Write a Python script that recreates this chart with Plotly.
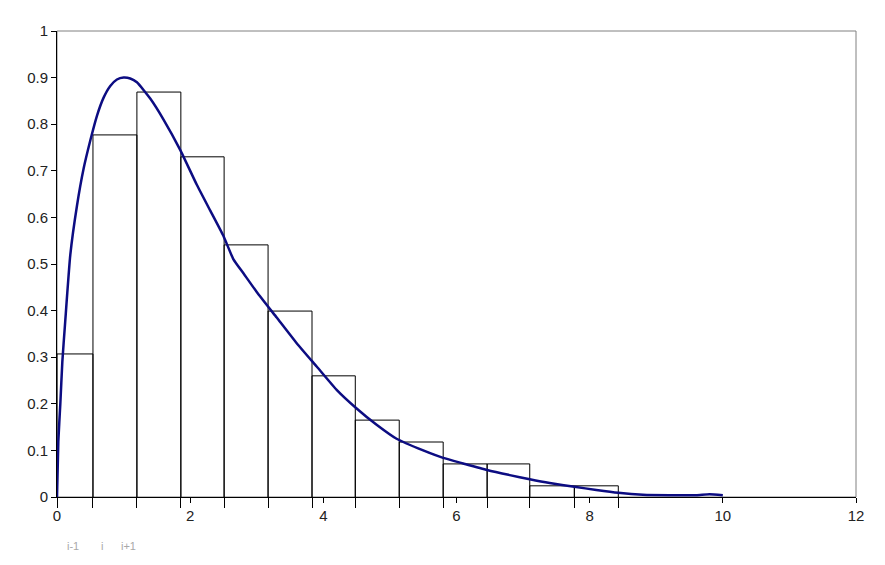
import plotly.graph_objects as go

# Histogram bin edges and heights
bin_edges = [0, 0.54, 1.2, 1.86, 2.51, 3.17, 3.83, 4.48, 5.14, 5.8, 6.46, 7.1, 7.77, 8.43]
bin_heights = [0.307, 0.777, 0.869, 0.730, 0.541, 0.399, 0.260, 0.165, 0.118, 0.071, 0.071, 0.024, 0.024]

# Density curve
curve_x = [0, 0.02, 0.05, 0.08, 0.12, 0.2, 0.3, 0.4, 0.5, 0.6, 0.7, 0.8, 0.9, 1.0, 1.1, 1.2,
           1.4, 1.6, 1.85, 2.1, 2.3, 2.5, 2.65, 2.8, 3.0, 3.3, 3.6, 3.9, 4.2, 4.5, 4.8, 5.1,
           5.5, 5.8, 6.1, 6.46, 6.8, 7.1, 7.4, 7.77, 8.1, 8.43, 8.8, 9.2, 9.6, 9.8, 10.0]
curve_y = [0, 0.12, 0.2, 0.29, 0.37, 0.52, 0.625, 0.705, 0.765, 0.818, 0.857, 0.882, 0.896, 0.9, 0.898, 0.89,
           0.855, 0.81, 0.745, 0.67, 0.615, 0.56, 0.51, 0.48, 0.44, 0.385, 0.33, 0.28, 0.23, 0.19, 0.155, 0.125,
           0.1, 0.084, 0.072, 0.058, 0.047, 0.038, 0.03, 0.022, 0.015, 0.009, 0.005, 0.004, 0.004, 0.006, 0.004]

# Index labels under the axis
index_labels = ["i-1", "i", "i+1"]
index_label_x = [0.24, 0.676, 1.08]

bx, by = [], []
for i, h in enumerate(bin_heights):
    a, b = bin_edges[i], bin_edges[i + 1]
    bx += [a, a, b, b, None]
    by += [0, h, h, 0, None]

fig = go.Figure()
fig.add_trace(go.Scatter(x=bx, y=by, mode="lines", line=dict(color="black", width=1),
                         hoverinfo="skip", showlegend=False))
fig.add_trace(go.Scatter(x=curve_x, y=curve_y, mode="lines",
                         line=dict(color="#0c0c82", width=2.5, shape="spline", smoothing=0.5),
                         showlegend=False))
# invisible trace to activate overlay axis
fig.add_trace(go.Scatter(x=[0, 12], y=[0, 0], xaxis="x2", mode="lines",
                         line=dict(width=0), hoverinfo="skip", showlegend=False))

font = dict(family="Liberation Sans, Arial, sans-serif", size=15, color="#222222")

fig.update_layout(
    width=869, height=549,
    margin=dict(l=49, r=21, t=23, b=60),
    paper_bgcolor="white", plot_bgcolor="white",
    font=font,
    xaxis=dict(range=[0, 12], tickmode="array", tickvals=bin_edges, showticklabels=False,
               ticks="outside", ticklen=10, tickcolor="black", tickwidth=1,
               showline=True, linecolor="black", linewidth=1, showgrid=False, zeroline=False,
               fixedrange=True),
    xaxis2=dict(range=[0, 12], overlaying="x", anchor="y", side="bottom", dtick=2, tick0=0,
                ticks="outside", ticklen=5, tickcolor="black", tickwidth=1,
                showline=False, showgrid=False, zeroline=False, tickfont=font),
    yaxis=dict(range=[0, 1], dtick=0.1, tick0=0, ticks="outside", ticklen=5, tickcolor="black",
               showline=True, linecolor="black", linewidth=1, showgrid=False, zeroline=False,
               tickfont=font),
    shapes=[dict(type="rect", xref="paper", yref="paper", x0=0, x1=1, y0=0, y1=1,
                 line=dict(color="#808080", width=1), layer="below")],
)

for lab, lx in zip(index_labels, index_label_x):
    fig.add_annotation(x=lx, xref="x", y=-0.122, yref="paper", text=lab, showarrow=False,
                       font=dict(family="Liberation Sans, Arial, sans-serif", size=11, color="#a8a8a8"))

fig.write_html("out.html")
